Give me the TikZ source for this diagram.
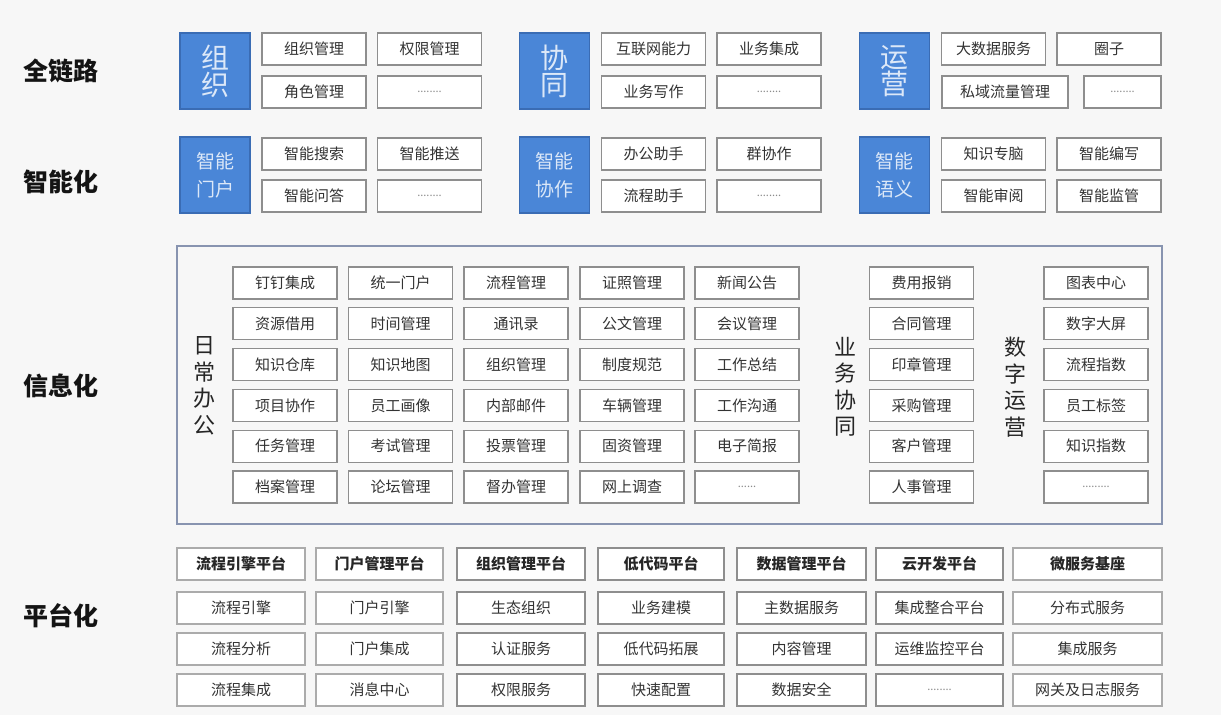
\documentclass[tikz,border=0pt]{standalone}
\usepackage{fontspec}
\setmainfont{Noto Sans CJK SC}
\definecolor{pagebg}{HTML}{F7F7F7}
\definecolor{boxgray}{HTML}{8E8E8E}
\definecolor{boxlight}{HTML}{ABABAB}
\definecolor{txtgray}{HTML}{333333}
\definecolor{tileblue}{HTML}{4A86D7}
\definecolor{tileedge}{HTML}{3A6CB4}
\definecolor{tiletext}{HTML}{DCE8F8}
\definecolor{framegray}{HTML}{8894B0}
\begin{document}
\begin{tikzpicture}[x=1pt,y=-1pt,line width=1.1pt,
  item/.style={draw=boxgray,fill=white,minimum width=104pt,minimum height=32pt,inner sep=0pt,
    text=txtgray,font=\fontsize{15}{15}\selectfont},
  soft/.style={item,draw=boxlight},
  head/.style={font=\bfseries\fontsize{15}{15}\selectfont,text=black!85},
  more/.style={font=\fontsize{11}{11}\selectfont,text=black!45},
  tile/.style={draw=tileedge,fill=tileblue,minimum width=70pt,minimum height=76pt,inner sep=0pt,
    align=center,text=tiletext},
  bigtile/.style={tile,font=\fontsize{28}{28}\selectfont},
  smalltile/.style={tile,font=\fontsize{19}{28}\selectfont},
  layer/.style={font=\bfseries\fontsize{25}{25}\selectfont,text=black!92},
  side/.style={align=center,inner sep=0pt,font=\fontsize{22}{26.5}\selectfont,text=black!85}]
  \fill[pagebg] (0,0) rectangle (1221,715);
  \useasboundingbox (0,0) rectangle (1221,715);
  % layer names
  \node[layer] (lqll) at (61,71) {全链路};
  \node[layer] (lznh) at (61,182) {智能化};
  \node[layer] (lxxh) at (61,386) {信息化};
  \node[layer] (lpth) at (61,616) {平台化};
  % full chain
  \node[bigtile] (zz) at (215,71) {组\\[-1pt]织};
  \node[item] (zzgl) at (314,49) {组织管理}; \node[item] (qxgl) at (429.5,49) {权限管理};
  \node[item] (jsgl) at (314,92) {角色管理}; \node[item,more] (zzmore) at (429.5,92) {........};
  \node[bigtile] (xt) at (554.5,71) {协\\[-1pt]同};
  \node[item] (hlw) at (653.5,49) {互联网能力}; \node[item] (ywjc) at (769,49) {业务集成};
  \node[item] (ywxz) at (653.5,92) {业务写作}; \node[item,more] (xtmore) at (769,92) {........};
  \node[bigtile] (yy) at (894.5,71) {运\\[-1pt]营};
  \node[item] (dsj) at (993.5,49) {大数据服务}; \node[item] (qz) at (1109,49) {圈子};
  \node[item,minimum width=126pt] (syll) at (1005,92) {私域流量管理};
  \node[item,more,minimum width=77pt] (yymore) at (1122.5,92) {........};
  % intelligent
  \node[smalltile] (znmh) at (215,175) {智能\\门户};
  \node[item] (znss) at (314,154) {智能搜索}; \node[item] (znts) at (429.5,154) {智能推送};
  \node[item] (znwd) at (314,196) {智能问答}; \node[item,more] (mhmore) at (429.5,196) {........};
  \node[smalltile] (znxz) at (554.5,175) {智能\\协作};
  \node[item] (bgzs) at (653.5,154) {办公助手}; \node[item] (qxz) at (769,154) {群协作};
  \node[item] (lczs) at (653.5,196) {流程助手}; \node[item,more] (xzmore) at (769,196) {........};
  \node[smalltile] (znyy) at (894.5,175) {智能\\语义};
  \node[item] (zszn) at (993.5,154) {知识专脑}; \node[item] (znbx) at (1109,154) {智能编写};
  \node[item] (znsy) at (993.5,196) {智能审阅}; \node[item] (znjg) at (1109,196) {智能监管};
  % information frame
  \node[draw=framegray,line width=1.3pt,minimum width=985pt,minimum height=278pt,inner sep=0pt] (xxframe) at (669.5,385) {};
  \node[side] (rcbg) at (204,386) {日\\常\\办\\公};
  \node[side] (ywxt) at (845,387) {业\\务\\协\\同};
  \node[side] (szyy) at (1015,387) {数\\字\\运\\营};
  % daily office
  \node[item] (ddjc) at (285,283) {钉钉集成}; \node[item] (tymh) at (400.5,283) {统一门户}; \node[item] (lcgl) at (516,283) {流程管理};
  \node[item] (zzhao) at (632,283) {证照管理}; \node[item] (xwgg) at (747,283) {新闻公告};
  \node[item] (zyjy) at (285,323.8) {资源借用}; \node[item] (sjgl) at (400.5,323.8) {时间管理}; \node[item] (txl) at (516,323.8) {通讯录};
  \node[item] (gwgl) at (632,323.8) {公文管理}; \node[item] (hygl) at (747,323.8) {会议管理};
  \node[item] (zsck) at (285,364.6) {知识仓库}; \node[item] (zsdt) at (400.5,364.6) {知识地图}; \node[item] (zzgl2) at (516,364.6) {组织管理};
  \node[item] (zdgf) at (632,364.6) {制度规范}; \node[item] (gzzj) at (747,364.6) {工作总结};
  \node[item] (xmxz) at (285,405.4) {项目协作}; \node[item] (yghx) at (400.5,405.4) {员工画像}; \node[item] (nbyj) at (516,405.4) {内部邮件};
  \node[item] (clgl) at (632,405.4) {车辆管理}; \node[item] (gzgt) at (747,405.4) {工作沟通};
  \node[item] (rwgl) at (285,446.2) {任务管理}; \node[item] (ksgl) at (400.5,446.2) {考试管理}; \node[item] (tpgl) at (516,446.2) {投票管理};
  \node[item] (gzgl) at (632,446.2) {固资管理}; \node[item] (dzjb) at (747,446.2) {电子简报};
  \node[item] (dagl) at (285,487) {档案管理}; \node[item] (ltgl) at (400.5,487) {论坛管理}; \node[item] (dbgl) at (516,487) {督办管理};
  \node[item] (wsdc) at (632,487) {网上调查}; \node[item,more] (rcmore) at (747,487) {......};
  % business collaboration
  \node[item] (fybx) at (921.5,283) {费用报销}; \node[item] (htgl) at (921.5,323.8) {合同管理}; \node[item] (yzgl) at (921.5,364.6) {印章管理};
  \node[item] (cggl) at (921.5,405.4) {采购管理}; \node[item] (khgl) at (921.5,446.2) {客户管理}; \node[item] (rsgl) at (921.5,487) {人事管理};
  % digital operation
  \node[item] (tbzx) at (1096,283) {图表中心}; \node[item] (szdp) at (1096,323.8) {数字大屏}; \node[item] (lczsu) at (1096,364.6) {流程指数};
  \node[item] (ygbq) at (1096,405.4) {员工标签}; \node[item] (zszs) at (1096,446.2) {知识指数}; \node[item,more] (yymore2) at (1096,487) {.........};
  % platform
  \node[soft,head,minimum width=128pt] (lcpt) at (241,564) {流程引擎平台};
  \node[soft,minimum width=128pt] (lcyq) at (241,608) {流程引擎};
  \node[soft,minimum width=128pt] (lcfx) at (241,649) {流程分析};
  \node[soft,minimum width=128pt] (lcjc) at (241,690) {流程集成};
  \node[soft,head,minimum width=127pt] (mhpt) at (379.5,564) {门户管理平台};
  \node[soft,minimum width=127pt] (mhyq) at (379.5,608) {门户引擎};
  \node[soft,minimum width=127pt] (mhjc) at (379.5,649) {门户集成};
  \node[soft,minimum width=127pt] (xxzx) at (379.5,690) {消息中心};
  \node[item,head,minimum width=128pt] (zzpt) at (521,564) {组织管理平台};
  \node[item,minimum width=128pt] (stzz) at (521,608) {生态组织};
  \node[item,minimum width=128pt] (rzfw) at (521,649) {认证服务};
  \node[item,minimum width=128pt] (qxfw) at (521,690) {权限服务};
  \node[item,head,minimum width=126pt] (dmpt) at (661,564) {低代码平台};
  \node[item,minimum width=126pt] (ywjm) at (661,608) {业务建模};
  \node[item,minimum width=126pt] (dmtz) at (661,649) {低代码拓展};
  \node[item,minimum width=126pt] (kspz) at (661,690) {快速配置};
  \node[item,head,minimum width=129pt] (sjpt) at (801.5,564) {数据管理平台};
  \node[item,minimum width=129pt] (zsjfw) at (801.5,608) {主数据服务};
  \node[item,minimum width=129pt] (nrgl) at (801.5,649) {内容管理};
  \node[item,minimum width=129pt] (sjaq) at (801.5,690) {数据安全};
  \node[item,head,minimum width=127pt] (ykpt) at (939.5,564) {云开发平台};
  \node[item,minimum width=127pt] (jczh) at (939.5,608) {集成整合平台};
  \node[item,minimum width=127pt] (ywjk) at (939.5,649) {运维监控平台};
  \node[item,more,minimum width=127pt] (ptmore) at (939.5,690) {........};
  \node[soft,head,minimum width=149pt] (wfw) at (1087.5,564) {微服务基座};
  \node[soft,minimum width=149pt] (fbs) at (1087.5,608) {分布式服务};
  \node[soft,minimum width=149pt] (jcfw) at (1087.5,649) {集成服务};
  \node[soft,minimum width=149pt] (wgrz) at (1087.5,690) {网关及日志服务};
\end{tikzpicture}
\end{document}
